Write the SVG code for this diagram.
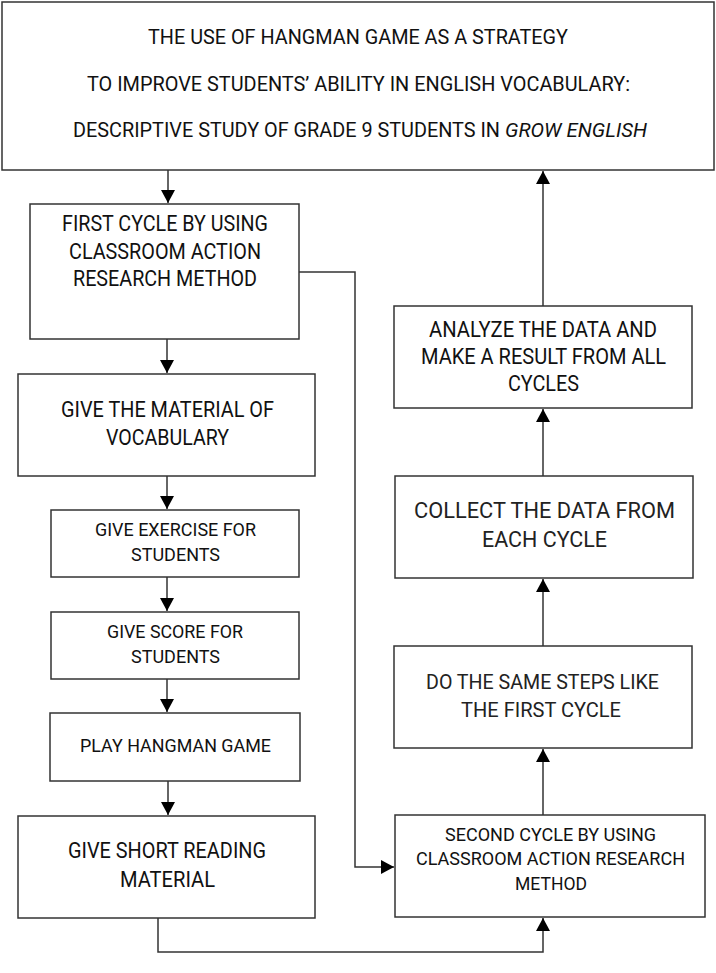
<svg xmlns="http://www.w3.org/2000/svg" width="716" height="973" viewBox="0 0 716 973">
<style>
.box{fill:#fff;stroke:#333;stroke-width:1.5}
.t{font-family:Roboto,"Liberation Sans",sans-serif;fill:#111;text-anchor:start}
.s22{font-size:22px}
.s20{font-size:20.5px}
.s19{font-size:19px}
.lt{fill:#222}
.c{fill:none;stroke:#333;stroke-width:1.5}
</style>
<defs>
<marker id="ah" markerUnits="userSpaceOnUse" markerWidth="14" markerHeight="14" viewBox="0 0 14 14" refX="13" refY="7" orient="auto">
<path d="M0,0 L13,7 L0,14 Z" fill="#000"/>
</marker>
</defs>
<rect width="716" height="973" fill="#fff"/>

<g id="title">
<rect class="box" x="2" y="2" width="712" height="168"/>
<text class="t s20" x="148" y="44" textLength="420" lengthAdjust="spacingAndGlyphs">THE USE OF HANGMAN GAME AS A STRATEGY</text>
<text class="t s20" x="87" y="91" textLength="543" lengthAdjust="spacingAndGlyphs">TO IMPROVE STUDENTS’ ABILITY IN ENGLISH VOCABULARY:</text>
<text class="t s20" x="73" y="137"><tspan textLength="427" lengthAdjust="spacingAndGlyphs">DESCRIPTIVE STUDY OF GRADE 9 STUDENTS IN</tspan><tspan x="505" font-style="italic" textLength="142" lengthAdjust="spacingAndGlyphs">GROW ENGLISH</tspan></text>
</g>

<g id="first-cycle">
<rect class="box" x="30" y="204" width="269" height="135"/>
<text class="t s22" x="62" y="231" textLength="206" lengthAdjust="spacingAndGlyphs">FIRST CYCLE BY USING</text>
<text class="t s22" x="69" y="259" textLength="192" lengthAdjust="spacingAndGlyphs">CLASSROOM ACTION</text>
<text class="t s22" x="73" y="286" textLength="184" lengthAdjust="spacingAndGlyphs">RESEARCH METHOD</text>
</g>

<g id="give-material">
<rect class="box" x="18" y="374" width="297" height="102"/>
<text class="t s22" x="61" y="417" textLength="213" lengthAdjust="spacingAndGlyphs">GIVE THE MATERIAL OF</text>
<text class="t s22" x="106" y="445" textLength="123" lengthAdjust="spacingAndGlyphs">VOCABULARY</text>
</g>

<g id="give-exercise">
<rect class="box" x="51" y="510" width="248" height="67"/>
<text class="t s19" x="95" y="536" textLength="161" lengthAdjust="spacingAndGlyphs">GIVE EXERCISE FOR</text>
<text class="t s19" x="131" y="561" textLength="89" lengthAdjust="spacingAndGlyphs">STUDENTS</text>
</g>

<g id="give-score">
<rect class="box" x="51" y="612" width="248" height="67"/>
<text class="t s19" x="107" y="638" textLength="136" lengthAdjust="spacingAndGlyphs">GIVE SCORE FOR</text>
<text class="t s19" x="131" y="663" textLength="89" lengthAdjust="spacingAndGlyphs">STUDENTS</text>
</g>

<g id="play-hangman">
<rect class="box" x="50" y="713" width="250" height="68"/>
<text class="t s19" x="80" y="752" textLength="191" lengthAdjust="spacingAndGlyphs">PLAY HANGMAN GAME</text>
</g>

<g id="short-reading">
<rect class="box" x="18" y="816" width="297" height="102"/>
<text class="t s22" x="68" y="858" textLength="198" lengthAdjust="spacingAndGlyphs">GIVE SHORT READING</text>
<text class="t s22" x="120" y="887" textLength="95" lengthAdjust="spacingAndGlyphs">MATERIAL</text>
</g>

<g id="second-cycle">
<rect class="box" x="395" y="815" width="310" height="102"/>
<text class="t s19" x="445" y="841" textLength="211" lengthAdjust="spacingAndGlyphs">SECOND CYCLE BY USING</text>
<text class="t s19" x="416" y="865" textLength="269" lengthAdjust="spacingAndGlyphs">CLASSROOM ACTION RESEARCH</text>
<text class="t s19" x="515" y="890" textLength="72" lengthAdjust="spacingAndGlyphs">METHOD</text>
</g>

<g id="same-steps">
<rect class="box" x="394" y="646" width="298" height="102"/>
<text class="t s20 lt" x="426" y="689" textLength="233" lengthAdjust="spacingAndGlyphs">DO THE SAME STEPS LIKE</text>
<text class="t s20 lt" x="461" y="717" textLength="160" lengthAdjust="spacingAndGlyphs">THE FIRST CYCLE</text>
</g>

<g id="collect">
<rect class="box" x="395" y="476" width="298" height="102"/>
<text class="t s22 lt" x="414" y="518" textLength="261" lengthAdjust="spacingAndGlyphs">COLLECT THE DATA FROM</text>
<text class="t s22 lt" x="482" y="547" textLength="125" lengthAdjust="spacingAndGlyphs">EACH CYCLE</text>
</g>

<g id="analyze">
<rect class="box" x="394" y="306" width="298" height="102"/>
<text class="t s22" x="429" y="337" textLength="228" lengthAdjust="spacingAndGlyphs">ANALYZE THE DATA AND</text>
<text class="t s22" x="421" y="364" textLength="245" lengthAdjust="spacingAndGlyphs">MAKE A RESULT FROM ALL</text>
<text class="t s22" x="508" y="391" textLength="71" lengthAdjust="spacingAndGlyphs">CYCLES</text>
</g>

<g id="connectors">
<path class="c" d="M168,170 L168,203" marker-end="url(#ah)"/>
<path class="c" d="M167,339 L167,373" marker-end="url(#ah)"/>
<path class="c" d="M167,476 L167,509" marker-end="url(#ah)"/>
<path class="c" d="M167,577 L167,611" marker-end="url(#ah)"/>
<path class="c" d="M167,679 L167,712" marker-end="url(#ah)"/>
<path class="c" d="M168,781 L168,815" marker-end="url(#ah)"/>
<path class="c" d="M158,918 L158,952 L543,952 L543,918" marker-end="url(#ah)"/>
<path class="c" d="M299,272 L355,272 L355,867 L394,867" marker-end="url(#ah)"/>
<path class="c" d="M543,815 L543,749" marker-end="url(#ah)"/>
<path class="c" d="M543,646 L543,579" marker-end="url(#ah)"/>
<path class="c" d="M543,476 L543,409" marker-end="url(#ah)"/>
<path class="c" d="M543,306 L543,171" marker-end="url(#ah)"/>
</g>
</svg>
